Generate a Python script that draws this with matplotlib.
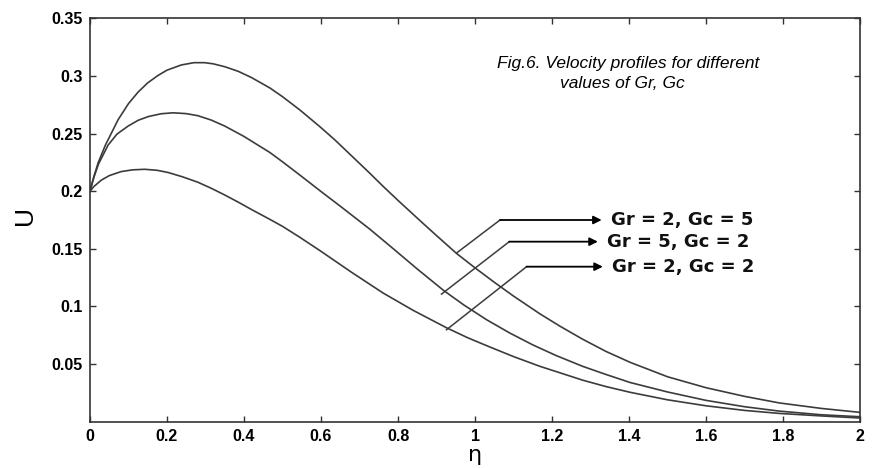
import matplotlib
matplotlib.use("Agg")
import matplotlib.pyplot as plt

# Velocity profiles
eta_gc5 = [0, 0.01, 0.021, 0.04, 0.073, 0.1, 0.125, 0.15, 0.177, 0.2, 0.237, 0.27, 0.298, 0.32,
           0.35, 0.385, 0.42, 0.4675, 0.5, 0.545, 0.597, 0.636, 0.68, 0.727, 0.762, 0.8, 0.857,
           0.9, 0.952, 1.0, 1.05, 1.1, 1.169, 1.22, 1.28, 1.34, 1.403, 1.5, 1.6, 1.7, 1.79, 1.9, 2.0]
u_gc5 = [0.200, 0.2125, 0.2245, 0.240, 0.262, 0.276, 0.286, 0.294, 0.3005, 0.305, 0.3095, 0.3115,
         0.3115, 0.3105, 0.308, 0.304, 0.2985, 0.2895, 0.282, 0.2705, 0.256, 0.2445, 0.2305,
         0.2155, 0.204, 0.192, 0.1745, 0.1615, 0.146, 0.1335, 0.121, 0.109, 0.0935, 0.083,
         0.0715, 0.061, 0.0515, 0.039, 0.0295, 0.022, 0.0163, 0.0115, 0.0081]

eta_gr5 = [0, 0.01, 0.022, 0.047, 0.07, 0.099, 0.125, 0.151, 0.185, 0.216, 0.25, 0.28, 0.315,
           0.35, 0.4, 0.4675, 0.5, 0.545, 0.597, 0.65, 0.727, 0.788, 0.85, 0.918, 0.97, 1.03,
           1.09, 1.151, 1.21, 1.28, 1.34, 1.403, 1.5, 1.6, 1.7, 1.79, 1.9, 2.0]
u_gr5 = [0.200, 0.212, 0.2235, 0.240, 0.2495, 0.2565, 0.2615, 0.2647, 0.2672, 0.268, 0.2673,
         0.2655, 0.2617, 0.2565, 0.2475, 0.2335, 0.2255, 0.214, 0.2005, 0.187, 0.167, 0.150,
         0.1325, 0.114, 0.1015, 0.0885, 0.077, 0.0665, 0.0575, 0.048, 0.041, 0.034, 0.0258,
         0.0185, 0.013, 0.0092, 0.006, 0.0043]

eta_gr2 = [0, 0.01, 0.029, 0.05, 0.081, 0.11, 0.142, 0.175, 0.203, 0.24, 0.28, 0.315, 0.35,
           0.385, 0.42, 0.4675, 0.5, 0.545, 0.597, 0.68, 0.762, 0.84, 0.926, 0.98, 1.03, 1.1,
           1.169, 1.22, 1.28, 1.34, 1.403, 1.5, 1.6, 1.7, 1.79, 1.9, 2.0]
u_gr2 = [0.200, 0.204, 0.2095, 0.2135, 0.217, 0.2185, 0.219, 0.2181, 0.2162, 0.2125, 0.2078,
         0.2025, 0.1967, 0.1905, 0.184, 0.1755, 0.1695, 0.160, 0.1485, 0.1295, 0.1115, 0.0965,
         0.0815, 0.073, 0.066, 0.0565, 0.048, 0.0425, 0.036, 0.0305, 0.0255, 0.019, 0.0138,
         0.0098, 0.0072, 0.005, 0.0032]

labels = ['Gr = 2, Gc = 5', 'Gr = 5, Gc = 2', 'Gr = 2, Gc = 2']
# leader lines: start on curve, elbow, arrow tip
starts = [(0.953, 0.1466), (0.913, 0.1107), (0.926, 0.0798)]
elbows = [(1.065, 0.1750), (1.089, 0.1562), (1.134, 0.1345)]
tips = [(1.329, 0.1750), (1.319, 0.1562), (1.332, 0.1345)]

xticks = [0, 0.2, 0.4, 0.6, 0.8, 1, 1.2, 1.4, 1.6, 1.8, 2]
xticklabels = ['0', '0.2', '0.4', '0.6', '0.8', '1', '1.2', '1.4', '1.6', '1.8', '2']
yticks = [0.05, 0.1, 0.15, 0.2, 0.25, 0.3, 0.35]
yticklabels = ['0.05', '0.1', '0.15', '0.2', '0.25', '0.3', '0.35']

fig = plt.figure(figsize=(8.74, 4.68), dpi=100)
ax = fig.add_axes([90 / 874, 46.3 / 468, 770 / 874, 403.4 / 468])

line_col = '#3c3c3c'
ax.plot(eta_gc5, u_gc5, color=line_col, lw=1.2)
ax.plot(eta_gr5, u_gr5, color=line_col, lw=1.2)
ax.plot(eta_gr2, u_gr2, color=line_col, lw=1.2)

for lab, s, e, t in zip(labels, starts, elbows, tips):
    ax.plot([s[0], e[0]], [s[1], e[1]], color=line_col, lw=1.1)
    ax.annotate('', xy=t, xytext=e,
                arrowprops=dict(arrowstyle='-|>', color='black', lw=1.3,
                                mutation_scale=12, shrinkA=0, shrinkB=0))
    ax.text(t[0] + 0.025, t[1], lab, fontsize=13, fontweight='bold',
            family='DejaVu Sans', ha='left', va='center', color='#111111')

ax.text(1.057, 0.311, 'Fig.6. Velocity profiles for different', fontsize=12.5,
        style='italic', family='Liberation Sans', ha='left', va='center')
ax.text(1.221, 0.293, 'values of Gr, Gc', fontsize=12.5,
        style='italic', family='Liberation Sans', ha='left', va='center')

ax.set_xlim(0, 2)
ax.set_ylim(0, 0.35)
ax.set_xticks(xticks)
ax.set_xticklabels(xticklabels)
ax.set_yticks(yticks)
ax.set_yticklabels(yticklabels)
ax.tick_params(direction='in', length=4, width=1, top=True, right=True,
               colors='#333333', labelcolor='black', pad=5)
for lbl in ax.get_xticklabels() + ax.get_yticklabels():
    lbl.set_family(['Liberation Sans Narrow', 'Liberation Sans'])
    lbl.set_fontweight('bold')
    lbl.set_fontsize(11.5)
for sp in ax.spines.values():
    sp.set_color('#333333')
    sp.set_linewidth(1.2)

ax.set_xlabel('η', fontsize=16, family='DejaVu Sans', labelpad=1)
ax.set_ylabel('U', fontsize=19, family='Liberation Sans')
ax.yaxis.set_label_coords(-0.069, 0.512)

fig.savefig('out.png', dpi=100, facecolor='white')
